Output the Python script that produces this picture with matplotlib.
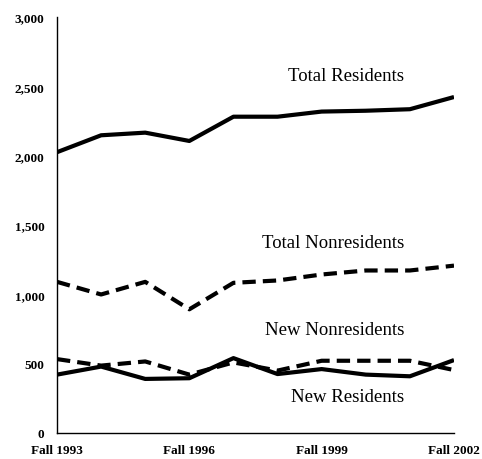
import matplotlib
matplotlib.use("Agg")
import matplotlib.pyplot as plt
from matplotlib.ticker import FuncFormatter

years = ["Fall 1993", "Fall 1994", "Fall 1995", "Fall 1996", "Fall 1997",
         "Fall 1998", "Fall 1999", "Fall 2000", "Fall 2001", "Fall 2002"]
total_residents = [2025, 2147, 2166, 2106, 2281, 2281, 2318, 2324, 2335, 2423]
total_nonresidents = [1090, 999, 1090, 892, 1083, 1100, 1143, 1172, 1172, 1207]
new_nonresidents = [533, 486, 516, 421, 509, 450, 521, 521, 521, 454]
new_residents = [421, 479, 390, 395, 540, 425, 461, 421, 409, 526]
tick_years = ["Fall 1993", "Fall 1996", "Fall 1999", "Fall 2002"]

fig = plt.figure(figsize=(4.82, 4.60), dpi=100)
ax = fig.add_axes([57/482, 26/460, (454-57)/482, (434-18)/460])

x = list(range(len(years)))
lw = 3.0
ax.plot(x, total_residents, color="black", lw=lw, solid_capstyle="butt")
ax.plot(x, total_nonresidents, color="black", lw=lw, dashes=(3.2, 1.7))
ax.plot(x, new_nonresidents, color="black", lw=lw, dashes=(3.2, 1.7))
ax.plot(x, new_residents, color="black", lw=lw, solid_capstyle="butt")

serif = ["Liberation Serif", "DejaVu Serif"]
lab_x = 7.87
for txt, yv in [("Total Residents", 2575), ("Total Nonresidents", 1375),
                ("New Nonresidents", 745), ("New Residents", 265)]:
    ax.text(lab_x, yv, txt, ha="right", va="center", fontsize=13.5, family=serif)

ax.set_xlim(0, 9)
ax.set_ylim(0, 3000)
ax.set_yticks(range(0, 3001, 500))
ax.yaxis.set_major_formatter(FuncFormatter(lambda v, p: f"{int(v):,}"))
ax.set_xticks([years.index(t) for t in tick_years])
ax.set_xticklabels(tick_years)
for lbl in ax.get_xticklabels() + ax.get_yticklabels():
    lbl.set_family(serif)
    lbl.set_fontweight("bold")
    lbl.set_fontsize(9.5)
ax.tick_params(axis="both", length=0)
ax.tick_params(axis="y", pad=9)
ax.tick_params(axis="x", pad=8)
ax.spines["top"].set_visible(False)
ax.spines["right"].set_visible(False)
ax.spines["left"].set_linewidth(1.0)
ax.spines["bottom"].set_linewidth(1.0)

fig.savefig("out.png", dpi=100)
